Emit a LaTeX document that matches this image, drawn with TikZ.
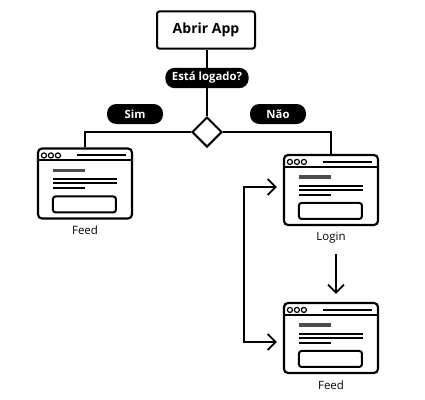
\documentclass[tikz,border=0pt]{standalone}
\usepackage{fontspec}
\setmainfont{Open Sans}
\usetikzlibrary{arrows.meta,shapes.geometric}
\tikzset{
  win/.style={draw,line width=1.6pt,rounded corners=3pt,minimum width=70.5pt,minimum height=52.5pt,inner sep=0pt,fill=white},
  pill/.style={fill=black,text=white,rounded corners=7pt,font=\bfseries\fontsize{8.5}{10}\selectfont,inner xsep=5pt,minimum height=15pt},
  conn/.style={line width=1.5pt},
  arr/.style={conn,-{Straight Barb[length=6pt,width=12pt,line width=1.3pt]}},
  lbl/.style={font=\fontsize{8.6}{10}\selectfont,inner sep=1pt},
  wline/.style={line width=1.5pt,line cap=butt},
}
\newcommand\windetail[1]{%
  \begin{scope}[shift={(#1.north west)}]
    \draw[wline] (0,13) -- (94,13);
    \foreach \cx in {7,14,21} \draw[line width=0.9pt] (\cx,8) circle[radius=1.9pt];
    \draw[wline] (40,8) -- (89,8);
    \draw[line width=2.4pt,black!70] (16,23) -- (48,23);
    \draw[wline] (16,32) -- (80,32);
    \draw[wline] (16,36) -- (80,36);
    \draw[wline] (16,41) -- (48,41);
    \draw[wline,rounded corners=2pt] (16,49) rectangle (79,65);
  \end{scope}}
\begin{document}
\begin{tikzpicture}[x=0.75pt,y=-0.75pt]
\path[use as bounding box,fill=white] (0,0) rectangle (425,400);
\node[draw,line width=1.5pt,rounded corners=2pt,minimum width=73.5pt,minimum height=28pt,font=\bfseries\fontsize{10.5}{12}\selectfont] (app) at (206,30) {Abrir App};
\node[diamond,draw,line width=1.5pt,fill=white,minimum width=22.5pt,minimum height=22.5pt,inner sep=0pt] (d) at (207,132) {};
\draw[conn] (app.south -| d.north) -- (d.north);
\node[pill] (q) at (207,78) {Está logado?};
\node[pill,minimum width=42pt] (sim) at (135,114) {Sim};
\node[pill,minimum width=42pt] (nao) at (278,114) {Não};
\node[win] (feed1) at (85,183.5) {};
\node[win] (login) at (331,190) {};
\node[win] (feed2) at (331,338) {};
\draw[conn] (d.west) -| (feed1.north);
\draw[conn] (d.east) -| (login.north);
\windetail{feed1}
\windetail{login}
\windetail{feed2}
\node[lbl,anchor=north] (l1) at ([yshift=-3.5pt]feed1.south) {Feed};
\node[lbl,anchor=north] (l2) at ([yshift=-3.5pt]login.south) {Login};
\node[lbl,anchor=north] (l3) at ([yshift=-3.5pt]feed2.south) {Feed};
\coordinate (lx) at (244,265);
\draw[arr,{Straight Barb[length=6pt,width=12pt,line width=1.3pt]}-{Straight Barb[length=6pt,width=12pt,line width=1.3pt]},shorten <=4.5pt,shorten >=4.5pt] ([yshift=2.25pt]login.west) -| (lx) |- ([yshift=-3pt]feed2.west);
\draw[arr] ([xshift=3.75pt,yshift=-7pt]l2.south) -- ([xshift=3.75pt,yshift=6pt]feed2.north);
\end{tikzpicture}
\end{document}
